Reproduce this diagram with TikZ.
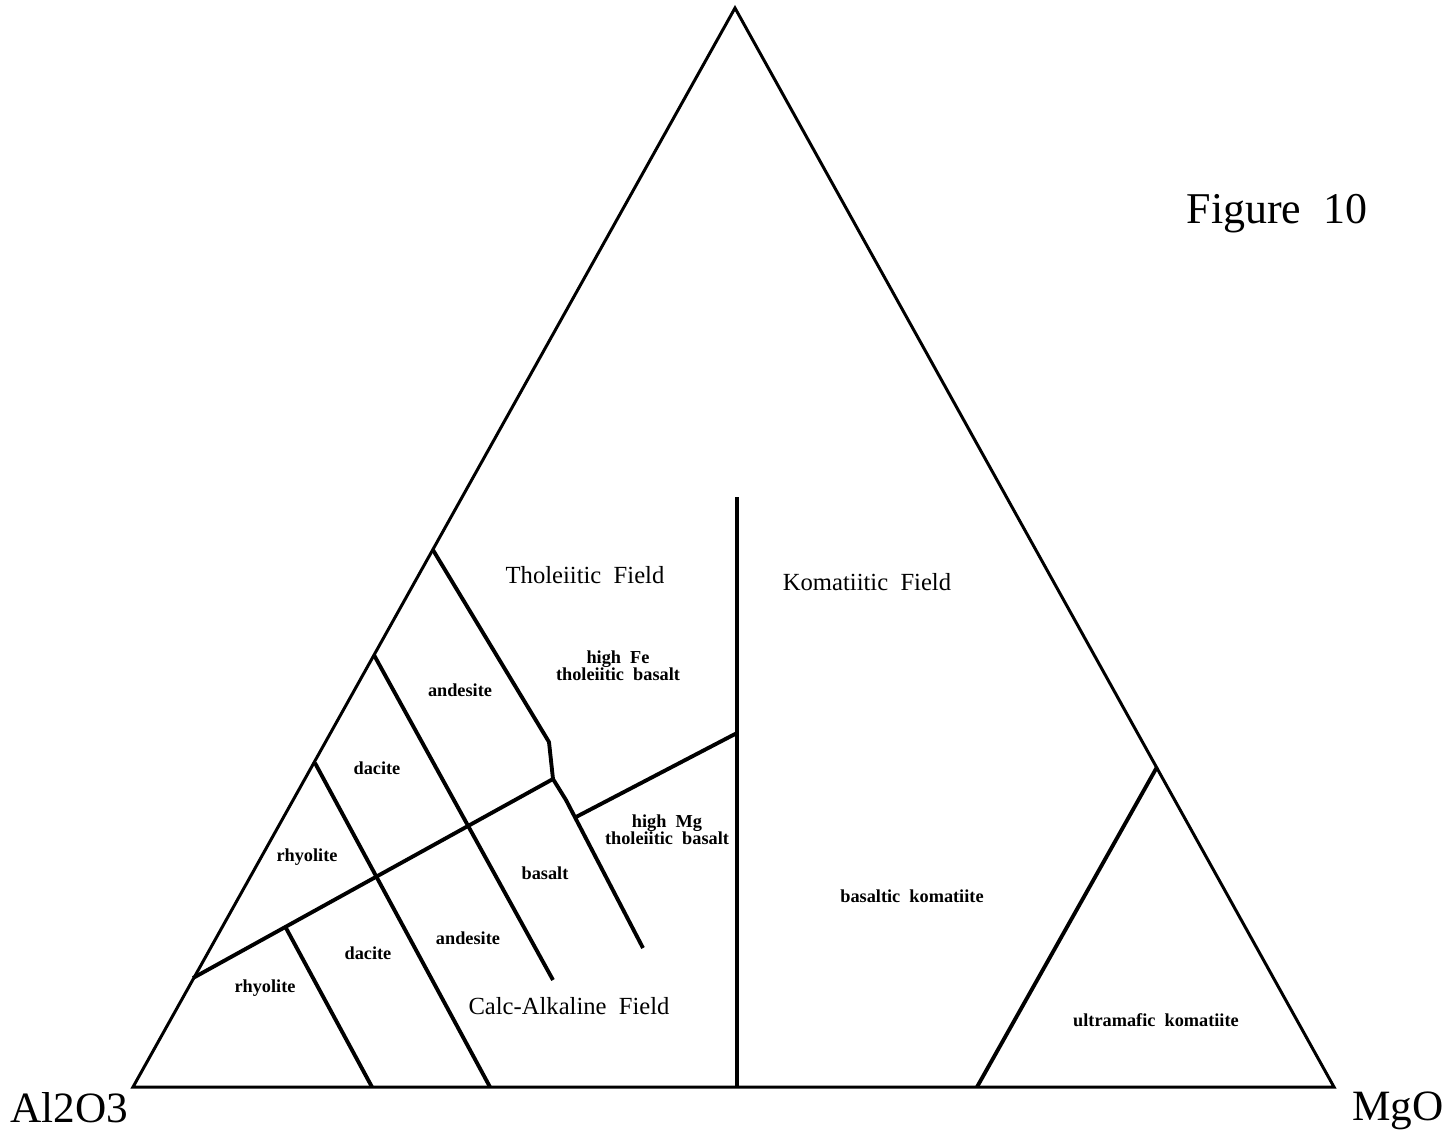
\documentclass[tikz,border=0pt]{standalone}
\usepackage{fontspec}
\setmainfont{Liberation Serif}
\usepackage{tikz}
\usetikzlibrary{positioning}
\tikzset{>=latex}
\tikzset{
  boundary/.style={line width=0.85pt, line join=miter},
  divider/.style={line width=1.1pt, line join=round},
  fieldname/.style={font=\fontsize{7}{8}\selectfont, inner sep=0pt},
  rockname/.style={font=\fontsize{5.2}{4.8}\selectfont\bfseries, align=center, inner sep=0pt},
  cornername/.style={font=\fontsize{12.3}{14}\selectfont, inner sep=0pt, anchor=base}
}

\begin{document}
\begin{tikzpicture}[x=0.01cm, y=-0.01cm]
    \useasboundingbox (0,0) rectangle (1456,1138);
    % Corners of the ternary diagram.
    \coordinate (apex) at (735,8);
    \coordinate (al) at (133,1087);
    \coordinate (mg) at (1334,1087);
    % Points on the outer edges.
    \coordinate (l1) at (433,550);
    \coordinate (l2) at (374,655);
    \coordinate (l3) at (315,763);
    \coordinate (l4) at (193,978);
    \coordinate (r1) at (1157,767);
    \coordinate (b1) at (372,1087);
    \coordinate (b2) at (490,1087);
    \coordinate (b3) at (737,1087);
    \coordinate (b4) at (977,1087);
    % Inner junctions.
    \coordinate (top) at (737,497);
    \coordinate (bend) at (549,742);
    \coordinate (knot) at (553,779);
    \coordinate (kink) at (566,800);
    \coordinate (mgjoin) at (576,817);
    \coordinate (vjoin) at (737,733);
    \coordinate (rhyjoin) at (286,928);
    \coordinate (endA) at (553,980);
    \coordinate (endB) at (643,948);

    % Draw the outer triangle.
    \draw[boundary] (al) -- (apex) -- (mg) -- cycle;

    % Draw the field boundaries.
    \draw[divider] (top) -- (b3);
    \draw[divider] (l4) -- (knot);
    \draw[divider] (mgjoin) -- (vjoin);
    \draw[divider] (l1) -- (bend) -- (knot) -- (kink) -- (endB);
    \draw[divider] (l2) -- (endA);
    \draw[divider] (l3) -- (b2);
    \draw[divider] (rhyjoin) -- (b1);
    \draw[divider] (r1) -- (b4);

    % Field names.
    \node[fieldname] (thol) at (585,575) {Tholeiitic\ \ Field};
    \node[fieldname] (koma) at (867,582) {Komatiitic\ \ Field};
    \node[fieldname] (calc) at (569,1006) {Calc-Alkaline\ \ Field};

    % Rock names.
    \node[rockname] (hfe) at (618,666) {high\ \ Fe\\tholeiitic\ \ basalt};
    \node[rockname] (hmg) at (667,830) {high\ \ Mg\\tholeiitic\ \ basalt};
    \node[rockname] (andu) at (460,690) {andesite};
    \node[rockname] (dacu) at (377,768) {dacite};
    \node[rockname] (rhyu) at (307,857) {rhyolite};
    \node[rockname] (bas) at (545,873) {basalt};
    \node[rockname] (andl) at (468,938) {andesite};
    \node[rockname] (dacl) at (368,953) {dacite};
    \node[rockname] (rhyl) at (265,988) {rhyolite};
    \node[rockname] (bkom) at (912,896) {basaltic\ \ komatiite};
    \node[rockname] (ukom) at (1156,1020) {ultramafic\ \ komatiite};

    % Corner labels and title.
    \node[cornername] (alname) at (69,1122) {Al2O3};
    \node[cornername] (mgname) at (1398,1120) {MgO};
    \node[font=\fontsize{12.5}{14}\selectfont, inner sep=0pt] (title) at (1277,214) {Figure\ \ 10};
\end{tikzpicture}
\end{document}
